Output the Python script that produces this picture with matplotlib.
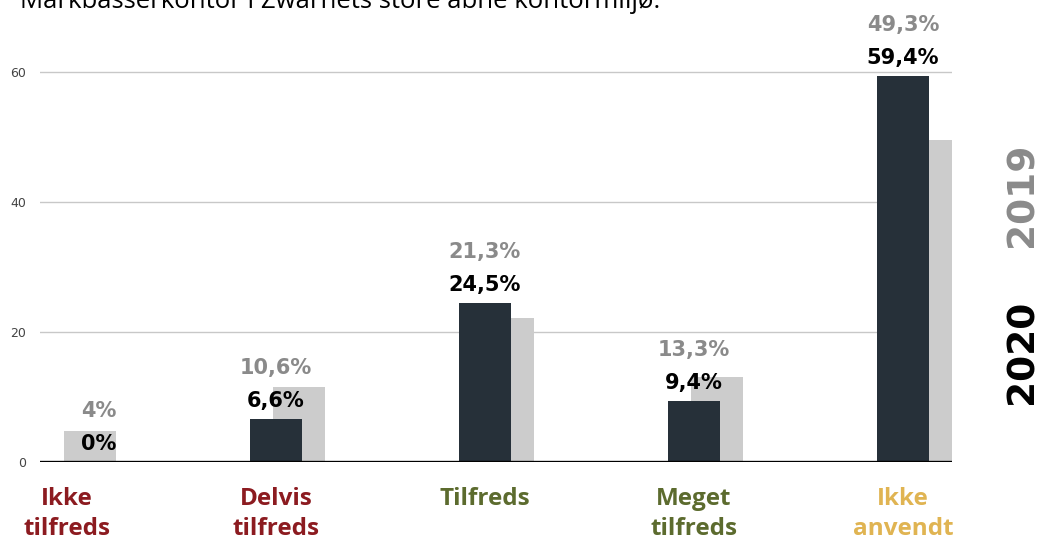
import matplotlib
matplotlib.use("Agg")
import matplotlib.pyplot as plt
import numpy as np

categories = ["Ikke\ntilfreds", "Delvis\ntilfreds", "Tilfreds", "Meget\ntilfreds", "Ikke\nanvendt"]
cat_colors = ["#8c1b20", "#8c1b20", "#5c6b2e", "#5c6b2e", "#e0b452"]
values_2020 = [0.0, 6.6, 24.5, 9.4, 59.4]
values_2019 = [4.8, 11.5, 22.2, 13.1, 49.5]
labels_2020 = ["0%", "6,6%", "24,5%", "9,4%", "59,4%"]
labels_2019 = ["4%", "10,6%", "21,3%", "13,3%", "49,3%"]
yticks = [0, 20, 40, 60]
title = "Markbåsserkontor i Zwarnets store åbne kontormiljø:"

W, H = 1045, 540
fig = plt.figure(figsize=(W / 100, H / 100), dpi=100)

# axes placement in pixels
x_left_px, x_right_px = 40, 952
y0_px, y60_px = 462, 72
ymax = 66
px_per_unit = (y0_px - y60_px) / 60
top_px = y0_px - ymax * px_per_unit
ax = fig.add_axes([x_left_px / W, (H - y0_px) / H, (x_right_px - x_left_px) / W, (y0_px - top_px) / H])

x = np.arange(len(categories))
cat0_px, spacing_px = 67, 209
ax.set_xlim((x_left_px - cat0_px) / spacing_px, (x_right_px - cat0_px) / spacing_px)
ax.set_ylim(0, ymax)

bw = 0.25
off = 0.11
dark = "#263039"
gray = "#cccccc"

gx = x + off
ax.bar(gx, values_2019, width=bw, color=gray, zorder=2)
ax.bar(x, values_2020, width=bw, color=dark, zorder=3)

ax.set_yticks(yticks)
ax.tick_params(axis="y", length=0, labelsize=9, labelcolor="#444444", pad=10)
ax.grid(axis="y", color="#c8c8c8", linewidth=1, zorder=0)
ax.axhline(0, color="black", linewidth=2.4, zorder=4)
for s in ax.spines.values():
    s.set_visible(False)

ax.set_xticks(x)
ax.set_xticklabels(categories)
ax.tick_params(axis="x", length=0, pad=18)
for i, (lbl, c) in enumerate(zip(ax.get_xticklabels(), cat_colors)):
    lbl.set_color(c)
    lbl.set_fontsize(17.5)
    lbl.set_fontweight("bold")
    lbl.set_fontfamily("Open Sans")
    lbl.set_linespacing(1.32)

for i in range(len(categories)):
    top = values_2020[i]
    lx = x[i] if top > 0 else gx[i] + 0.04
    y_dark = top + 18 / px_per_unit
    y_gray = y_dark + 33 / px_per_unit
    ax.text(lx, y_dark, labels_2020[i], ha="center", va="center", fontsize=15,
            fontweight="bold", color="black", family="DejaVu Sans", zorder=5, clip_on=False)
    ax.text(lx, y_gray, labels_2019[i], ha="center", va="center", fontsize=15,
            fontweight="bold", color="#8a8a8a", family="DejaVu Sans", zorder=5, clip_on=False)

fig.text(1023 / W, 1 - 195 / H, "2019", rotation=90, ha="center", va="center",
         fontsize=27, fontweight="bold", color="#8a8a8a", family="DejaVu Sans")
fig.text(1023 / W, 1 - 352 / H, "2020", rotation=90, ha="center", va="center",
         fontsize=27, fontweight="bold", color="black", family="DejaVu Sans")

fig.text(20 / W, 1 - 8 / H, title, ha="left", va="baseline", fontsize=18.5,
         color="black", family="Open Sans")

fig.savefig("out.png", dpi=100)
